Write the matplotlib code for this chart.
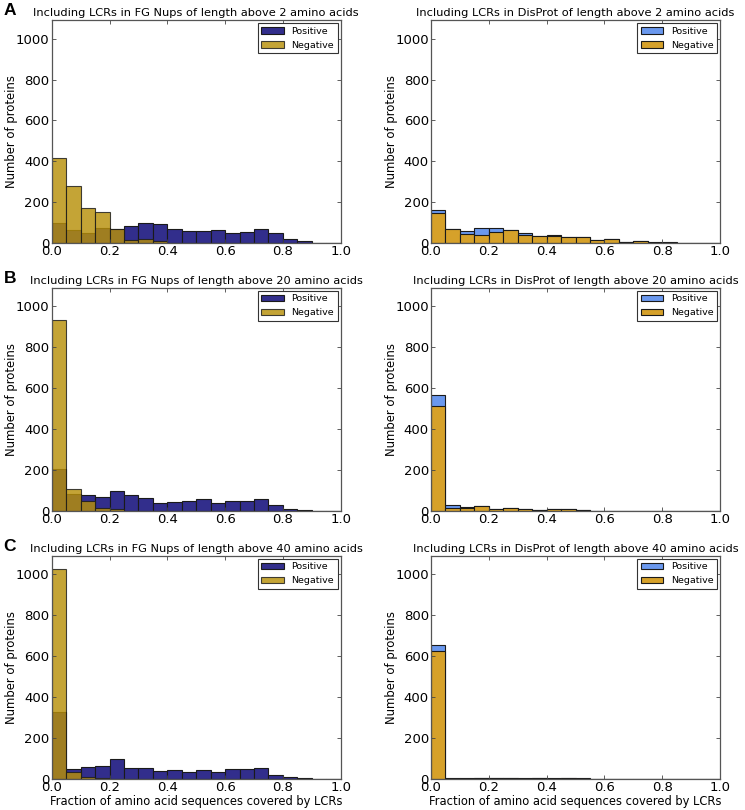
import matplotlib
matplotlib.use("Agg")
import matplotlib.pyplot as plt
import numpy as np

# bin edges: 20 bins of width 0.05 between 0 and 1
edges = np.linspace(0, 1, 21)

# counts per bin
fg2_pos = [100, 67, 52, 73, 68, 83, 100, 93, 68, 59, 59, 64, 49, 57, 68, 48, 20, 11, 4, 1]
fg2_neg = [417, 280, 173, 152, 71, 16, 19, 9, 2, 0, 0, 0, 0, 0, 0, 0, 0, 0, 0, 0]
dp2_pos = [161, 70, 62, 75, 75, 64, 51, 35, 39, 30, 30, 18, 20, 8, 10, 5, 5, 2, 2, 0]
dp2_neg = [146, 68, 46, 43, 57, 63, 43, 34, 38, 30, 30, 16, 20, 8, 10, 4, 4, 1, 1, 0]

fg20_pos = [203, 81, 76, 68, 96, 80, 65, 39, 44, 47, 60, 39, 49, 49, 60, 28, 11, 6, 2, 0]
fg20_neg = [935, 109, 47, 13, 10, 0, 0, 0, 0, 0, 0, 0, 0, 0, 0, 0, 0, 0, 0, 0]
dp20_pos = [565, 31, 18, 26, 11, 16, 11, 7, 11, 11, 7, 2, 2, 1, 1, 0, 1, 1, 1, 0]
dp20_neg = [515, 16, 16, 26, 11, 16, 11, 7, 11, 11, 7, 2, 1, 1, 0, 0, 0, 0, 0, 0]

fg40_pos = [328, 50, 58, 62, 97, 52, 52, 38, 45, 33, 45, 35, 50, 47, 55, 18, 8, 3, 1, 0]
fg40_neg = [1025, 33, 12, 3, 0, 0, 0, 0, 0, 0, 0, 0, 0, 0, 0, 0, 0, 0, 0, 0]
dp40_pos = [656, 3, 3, 5, 5, 5, 4, 3, 3, 5, 3, 1, 1, 1, 1, 1, 1, 0, 1, 0]
dp40_neg = [623, 2, 2, 3, 5, 5, 2, 5, 2, 5, 1, 0, 0, 0, 0, 0, 0, 0, 0, 0]

lengths = [2, 20, 40]
letters = ["A", "B", "C"]
fg_data = [(fg2_pos, fg2_neg), (fg20_pos, fg20_neg), (fg40_pos, fg40_neg)]
dp_data = [(dp2_pos, dp2_neg), (dp20_pos, dp20_neg), (dp40_pos, dp40_neg)]

fg_colors = ("#322e8c", "#b8900a")
dp_colors = ("#6a98ee", "#d6a12a")

fig = plt.figure(figsize=(7.45, 8.10), dpi=100)

bottoms = [0.6996, 0.3691, 0.0383]
lefts = [0.0694, 0.5785]
w, h = 0.388, 0.2755


def draw(ax, pos, neg, colors, neg_alpha, title, xlabel):
    ax.bar(edges[:-1], pos, width=0.05, align="edge", color=colors[0],
           edgecolor="#1a1a1a", linewidth=0.8, label="Positive")
    ax.bar(edges[:-1], neg, width=0.05, align="edge", color=colors[1],
           alpha=neg_alpha, edgecolor="#1a1a1a", linewidth=0.8, label="Negative")
    ax.set_xlim(0, 1)
    ax.set_ylim(0, 1090)
    ax.set_xticks(np.arange(0, 1.01, 0.2))
    ax.set_yticks(np.arange(0, 1001, 200))
    ax.tick_params(direction="in", top=True, right=True, labelsize=9.5,
                   length=3, width=0.6, color="#444444", pad=1.5)
    for s in ax.spines.values():
        s.set_color("#555555")
        s.set_linewidth(0.9)
    ax.set_title(title, fontsize=8.2, pad=3)
    ax.set_ylabel("Number of proteins", fontsize=8.4)
    ax.yaxis.set_label_coords(-0.115, 0.5)
    if xlabel:
        ax.set_xlabel("Fraction of amino acid sequences covered by LCRs", fontsize=8.3, labelpad=1)
    leg = ax.legend(loc="upper right", fontsize=6.8, fancybox=False,
                    borderaxespad=0.3, handlelength=2.4, framealpha=1)
    leg.get_frame().set_edgecolor("#333333")
    leg.get_frame().set_linewidth(0.8)


for i in range(3):
    ax1 = fig.add_axes([lefts[0], bottoms[i], w, h])
    draw(ax1, fg_data[i][0], fg_data[i][1], fg_colors, 0.82,
         "Including LCRs in FG Nups of length above %d amino acids" % lengths[i], i == 2)
    ax2 = fig.add_axes([lefts[1], bottoms[i], w, h])
    draw(ax2, dp_data[i][0], dp_data[i][1], dp_colors, 1.0,
         "Including LCRs in DisProt of length above %d amino acids" % lengths[i], i == 2)
    fig.text(0.005, bottoms[i] + h + 0.006, letters[i], fontsize=12.5, fontweight="bold",
             family="Liberation Sans", va="baseline", ha="left")

fig.savefig("out.png", dpi=100)
